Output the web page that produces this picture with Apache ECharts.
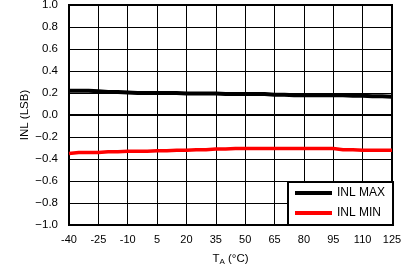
<!DOCTYPE html>
<html><head><meta charset="utf-8">
<script src="https://cdn.jsdelivr.net/npm/echarts@6/dist/echarts.min.js"></script>
<style>html,body{margin:0;padding:0;background:#fff}#c{width:407px;height:267px}</style>
</head><body><div id="c"></div>
<script>
var temps = [-40,-35,-30,-25,-20,-15,-10,-5,0,5,10,15,20,25,30,35,40,45,50,55,60,65,70,75,80,85,90,95,100,105,110,115,120,125];
var inlMax = [0.22,0.22,0.22,0.215,0.21,0.21,0.205,0.20,0.20,0.20,0.20,0.20,0.195,0.195,0.195,0.195,0.19,0.19,0.19,0.19,0.19,0.185,0.185,0.18,0.18,0.18,0.18,0.18,0.18,0.175,0.175,0.17,0.17,0.165];
var inlMin = [-0.35,-0.34,-0.34,-0.34,-0.335,-0.335,-0.33,-0.33,-0.33,-0.325,-0.325,-0.32,-0.32,-0.315,-0.315,-0.31,-0.31,-0.305,-0.305,-0.305,-0.305,-0.305,-0.305,-0.305,-0.305,-0.305,-0.305,-0.305,-0.315,-0.315,-0.32,-0.32,-0.32,-0.32];
var seriesNames = ['INL MAX','INL MIN'];
var font = 'Liberation Sans, Arial, sans-serif';
var chart = echarts.init(document.getElementById('c'));
chart.setOption({
  animation: false,
  grid: {left: 69, right: 15, top: 5, bottom: 42, outerBoundsMode: 'none', containLabel: false, show: true, borderColor: '#000', borderWidth: 2, backgroundColor: 'transparent'},
  legend: {
    data: seriesNames, orient: 'vertical', left: 288, top: 182,
    backgroundColor: '#fff', borderColor: '#000', borderWidth: 2,
    padding: [5, 8, 6, 7], itemGap: 8, itemWidth: 37, itemHeight: 13,
    textStyle: {fontFamily: font, fontSize: 12, color: '#000'},
    icon: 'path://M0,0L37,0L37,4L0,4Z'
  },
  xAxis: {
    type: 'category', data: temps.map(String), boundaryGap: false,
    name: '{a|T}{s|A}{a| (°C)}', nameLocation: 'middle', nameGap: 27, nameMoveOverlap: false,
    nameTextStyle: {rich: {a: {fontFamily: font, fontSize: 11.5, color: '#000'}, s: {fontFamily: font, fontSize: 8, color: '#000', padding: [6, 0, 0, 0]}}},
    axisLine: {lineStyle: {color: '#000', width: 2}},
    axisTick: {show: false},
    axisLabel: {interval: 2, fontFamily: font, fontSize: 11, color: '#000', margin: 9},
    splitLine: {show: true, interval: 2, lineStyle: {color: '#000', width: 1}}
  },
  yAxis: {
    type: 'value', min: -1, max: 1, interval: 0.2,
    name: 'INL (LSB)', nameLocation: 'middle', nameGap: 38, nameRotate: 90, nameMoveOverlap: false,
    nameTextStyle: {fontFamily: font, fontSize: 11.5, color: '#000'},
    axisLine: {show: true, lineStyle: {color: '#000', width: 2}},
    axisTick: {show: false},
    axisLabel: {fontFamily: font, fontSize: 11.5, color: '#000', margin: 11,
      formatter: function(v){ var s = Math.abs(v).toFixed(1); return (v < -1e-9 ? '\u2212' : '') + s; }},
    splitLine: {show: true, lineStyle: {color: '#000', width: 1}}
  },
  series: [
    {name: seriesNames[0], type: 'line', data: inlMax, symbol: 'none', itemStyle: {color: '#000'}, lineStyle: {color: '#000', width: 4}},
    {name: seriesNames[1], type: 'line', data: inlMin, symbol: 'none', itemStyle: {color: '#ff0000'}, lineStyle: {color: '#ff0000', width: 3.5}}
  ]
});
</script></body></html>
